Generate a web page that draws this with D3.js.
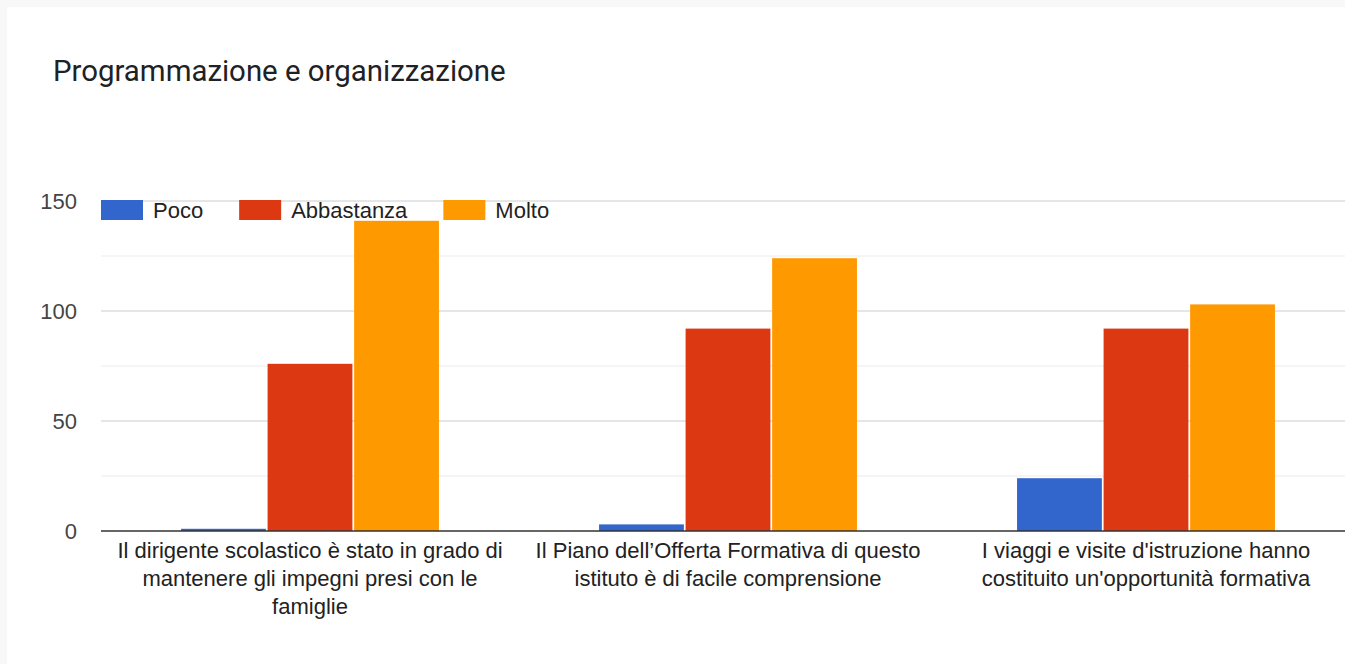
<!DOCTYPE html>
<html>
<head>
<meta charset="utf-8">
<script src="https://cdn.jsdelivr.net/npm/d3@7"></script>
<style>
  body { margin: 0; background: #f8f8f8; overflow: hidden; }
  svg { display: block; }
</style>
</head>
<body>
<svg id="chart" width="1345" height="664"></svg>
<script>
// data
const categories = [
    "Il dirigente scolastico è stato in grado di mantenere gli impegni presi con le famiglie",
    "Il Piano dell’Offerta Formativa di questo istituto è di facile comprensione",
    "I viaggi e visite d'istruzione hanno costituito un'opportunità formativa"
];
const categoryLines = [
    ["Il dirigente scolastico è stato in grado di", "mantenere gli impegni presi con le", "famiglie"],
    ["Il Piano dell’Offerta Formativa di questo", "istituto è di facile comprensione"],
    ["I viaggi e visite d'istruzione hanno", "costituito un'opportunità formativa"]
];
const seriesNames = ["Poco", "Abbastanza", "Molto"];
const poco = [1, 3, 24];
const abbastanza = [76, 92, 92];
const molto = [141, 124, 103];
const yTicks = [0, 50, 100, 150];
const yMinorTicks = [25, 75, 125];

const seriesValues = [poco, abbastanza, molto];
const colors = ["#3366cc", "#dc3912", "#ff9900"];

const svg = d3.select('#chart');
const labelFont = '"Liberation Sans", Arial, sans-serif';

// white card
svg.append('rect')
    .attr('x', 7).attr('y', 7)
    .attr('width', 1400).attr('height', 700)
    .style('fill', '#fff');

svg.append('text')
    .attr('x', 53).attr('y', 81)
    .style('font-family', 'Roboto, sans-serif')
    .style('font-size', '29.4px')
    .style('fill', '#202124')
    .text('Programmazione e organizzazione');

const plot = { left: 101, right: 1355, top: 201, bottom: 531 };

let x0 = d3.scaleBand()
    .domain(categories)
    .range([plot.left, plot.right])
    .paddingInner(0.383)
    .paddingOuter(0.1915);

let x1 = d3.scaleBand()
    .domain(seriesNames)
    .range([0, x0.bandwidth()])
    .paddingInner(0.02);

let y = d3.scaleLinear()
    .domain([0, 150])
    .range([plot.bottom, plot.top]);

// grid lines
svg.append('g').selectAll('line')
    .data(yMinorTicks)
    .enter().append('line')
    .attr('x1', plot.left).attr('x2', 1345)
    .attr('y1', d => y(d)).attr('y2', d => y(d))
    .style('stroke', '#ebebeb');

svg.append('g').selectAll('line')
    .data(yTicks.slice(1))
    .enter().append('line')
    .attr('x1', plot.left).attr('x2', 1345)
    .attr('y1', d => y(d)).attr('y2', d => y(d))
    .style('stroke', '#cccccc');

// y labels
let yAxis = d3.axisLeft(y).tickValues(yTicks).tickSize(0).tickPadding(24);
let yg = svg.append('g')
    .attr('transform', 'translate(' + plot.left + ',0)')
    .call(yAxis);
yg.select('.domain').remove();
yg.selectAll('text')
    .style('font-family', labelFont)
    .style('font-size', '22px')
    .style('fill', '#444');

// bars
let groups = svg.append('g').selectAll('g')
    .data(categories)
    .enter().append('g')
    .attr('transform', d => 'translate(' + x0(d) + ',0)');

groups.selectAll('rect')
    .data((d, i) => seriesNames.map((s, j) => ({ name: s, value: seriesValues[j][i], color: colors[j] })))
    .enter().append('rect')
    .attr('x', d => x1(d.name))
    .attr('width', x1.bandwidth())
    .attr('y', d => y(d.value))
    .attr('height', d => y(0) - y(d.value))
    .style('fill', d => d.color);

// baseline
svg.append('line')
    .attr('x1', plot.left).attr('x2', 1345)
    .attr('y1', y(0)).attr('y2', y(0))
    .style('stroke', '#333')
    .style('stroke-width', 1.5);

// category labels
svg.append('g').selectAll('text')
    .data(categories)
    .enter().append('text')
    .attr('text-anchor', 'middle')
    .style('font-family', labelFont)
    .style('font-size', '22px')
    .style('fill', '#222')
    .each(function(d, i){
        let t = d3.select(this);
        categoryLines[i].forEach((line, k) => {
            t.append('tspan')
                .attr('x', x0(d) + x0.bandwidth() / 2)
                .attr('y', 558 + k * 28)
                .text(line);
        });
    });

// legend
let legend = svg.append('g');
let lx = 101;
seriesNames.forEach((s, j) => {
    legend.append('rect')
        .attr('x', lx).attr('y', 200)
        .attr('width', 42).attr('height', 20)
        .style('fill', colors[j]);
    let t = legend.append('text')
        .attr('x', lx + 52).attr('y', 218)
        .style('font-family', labelFont)
        .style('font-size', '22px')
        .style('fill', '#222')
        .text(s);
    lx += 52 + t.node().getComputedTextLength() + 36;
});
</script>
</body>
</html>
